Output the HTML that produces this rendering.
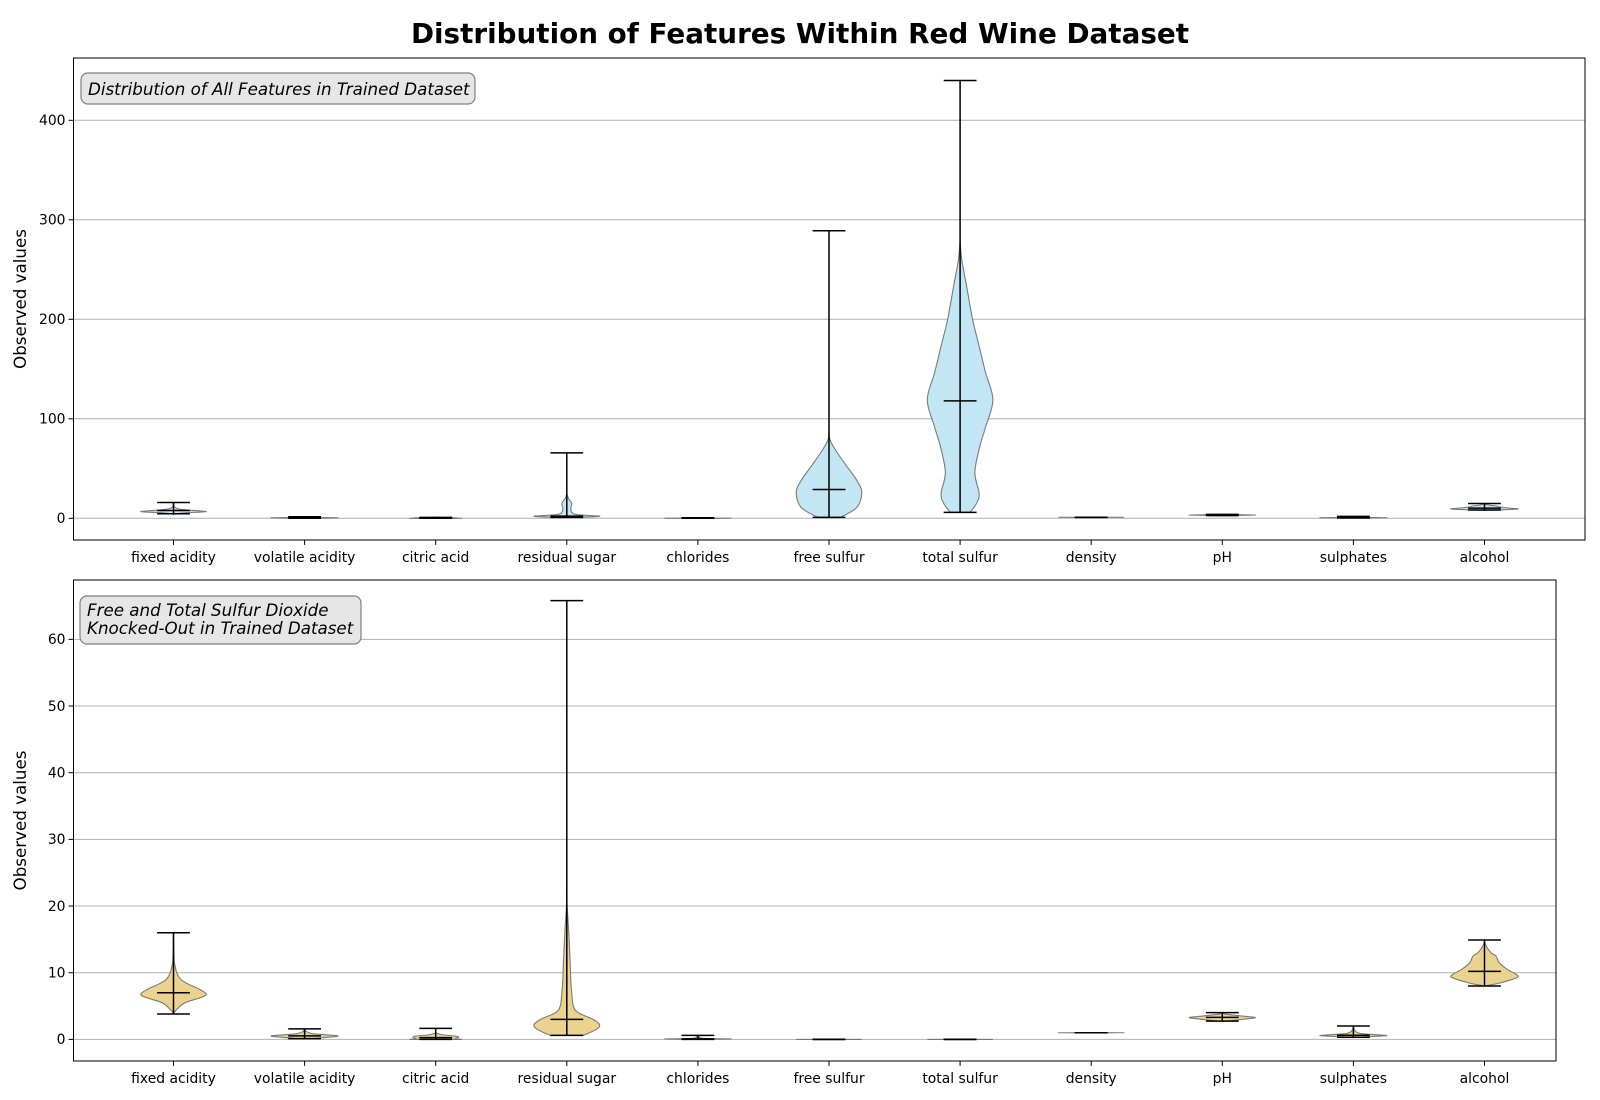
<!DOCTYPE html>
<html><head><meta charset="utf-8">
<style>
html,body{margin:0;padding:0;background:#fff;}
svg{display:block;font-family:"DejaVu Sans","Liberation Sans",sans-serif;}
</style></head>
<body>
<svg id="chart" width="1600" height="1100" viewBox="0 0 1600 1100" xmlns="http://www.w3.org/2000/svg">
<text x="800" y="43" text-anchor="middle" font-size="27.8" font-weight="bold">Distribution of Features Within Red Wine Dataset</text>
</svg>
<script>
const categories = ["fixed acidity","volatile acidity","citric acid","residual sugar","chlorides","free sulfur","total sulfur","density","pH","sulphates","alcohol"];
const topTicks = [0,100,200,300,400];
const bottomTicks = [0,10,20,30,40,50,60];

const topMins = [4.6,0.12,0,0.9,0.012,1,6,0.99,2.74,0.33,8.4];
const topMaxs = [15.9,1.58,1,65.8,0.61,289,440,1.004,4.01,2.0,14.9];
const topMedians = [7.9,0.52,0.26,2.2,0.079,29,118,0.997,3.31,0.62,10.2];

const bottomMins = [3.8,0.12,0,0.6,0.012,0,0,0.99,2.74,0.33,8.0];
const bottomMaxs = [16,1.58,1.66,65.8,0.61,0,0,1.004,4.01,2.0,14.9];
const bottomMedians = [7,0.52,0.26,3,0.079,0,0,0.997,3.31,0.62,10.2];

const profFixed = [[3.8,0],[4.5,0.1],[5.5,0.35],[6.3,0.85],[6.8,1],[7.5,0.8],[8.3,0.45],[9,0.22],[10,0.1],[11,0.05],[12,0.02],[16,0]];
const profVolatile = [[0.12,0.2],[0.4,0.9],[0.55,1],[0.7,0.6],[0.9,0.2],[1.2,0.05],[1.58,0]];
const profCitric = [[0,0.8],[0.1,0.6],[0.3,0.7],[0.5,0.6],[0.7,0.2],[1,0]];
const profSugarTop = [[0.9,0.3],[2,1],[3,0.6],[4,0.25],[6,0.15],[10,0.12],[15,0.15],[20,0.05],[25,0]];
const profSugarBottom = [[0.6,0.5],[1.5,0.9],[2.2,1],[3,0.8],[4,0.35],[5,0.2],[7,0.15],[9,0.12],[12,0.1],[16,0.06],[20,0.01],[22,0]];
const profChlorides = [[0.012,0.1],[0.07,1],[0.1,0.5],[0.2,0.1],[0.61,0]];
const profFree = [[1,0.35],[11,0.85],[26,1],[38,0.85],[52,0.55],[66,0.25],[79,0.03],[92,0]];
const profTotal = [[6,0.3],[15,0.5],[25,0.58],[46,0.45],[72,0.6],[92,0.78],[119,1],[146,0.78],[173,0.58],[200,0.38],[233,0.2],[260,0.05],[280,0]];
const profZero = [[0,1],[0,1]];
const profDensity = [[0.99,0.1],[0.997,1],[1.004,0.1]];
const profPH = [[2.74,0.1],[3.1,0.8],[3.3,1],[3.5,0.6],[3.8,0.1],[4.01,0]];
const profSulph = [[0.33,0.1],[0.55,1],[0.7,0.7],[0.9,0.2],[1.3,0.05],[2.0,0]];
const profAlcohol = [[8,0],[8.5,0.5],[9.3,1],[9.8,0.95],[10.5,0.7],[11.5,0.45],[12.5,0.35],[13,0.2],[14,0.05],[14.9,0]];

const topProfiles = [profFixed,profVolatile,profCitric,profSugarTop,profChlorides,profFree,profTotal,profDensity,profPH,profSulph,profAlcohol];
const bottomProfiles = [profFixed,profVolatile,profCitric,profSugarBottom,profChlorides,profZero,profZero,profDensity,profPH,profSulph,profAlcohol];

const NS = "http://www.w3.org/2000/svg";
const svg = document.getElementById("chart");
function mk(tag, attrs, parent){
  const e = document.createElementNS(NS, tag);
  for (const k in attrs) e.setAttribute(k, attrs[k]);
  (parent||svg).appendChild(e);
  return e;
}
function smooth(pts){
  // Catmull-Rom to cubic bezier
  let d = "";
  for (let i = 0; i < pts.length - 1; i++){
    const p0 = pts[Math.max(0,i-1)], p1 = pts[i], p2 = pts[i+1], p3 = pts[Math.min(pts.length-1,i+2)];
    const c1x = p1[0] + (p2[0]-p0[0])/6, c1y = p1[1] + (p2[1]-p0[1])/6;
    const c2x = p2[0] - (p3[0]-p1[0])/6, c2y = p2[1] - (p3[1]-p1[1])/6;
    d += " C" + c1x.toFixed(2)+","+c1y.toFixed(2)+" "+c2x.toFixed(2)+","+c2y.toFixed(2)+" "+p2[0].toFixed(2)+","+p2[1].toFixed(2);
  }
  return d;
}

function drawPanel(cfg){
  const g = mk("g", {});
  
  
  const L = cfg.left, R = cfg.right, T = cfg.top, B = cfg.bottom;
  const yScale = v => B - (v - cfg.ymin) / (cfg.ymax - cfg.ymin) * (B - T);
  const xScale = i => 173.5 + i * 131.1;
  const halfMax = 32.8, capHalf = 16.4;
  cfg.ticks.forEach(t => {
    const y = yScale(t);
    const gl = mk("line", {x1:L, x2:R, y1:y, y2:y, stroke:"#b0b0b0", "stroke-width":1}, g);
    
    
    mk("line", {x1:L-4.9, x2:L, y1:y, y2:y, stroke:"#000", "stroke-width":1}, g);
    const tl = mk("text", {x:L-8, y:y+4.8, "text-anchor":"end", "font-size":13.9}, g);
    
    
    tl.textContent = t;
  });
  categories.forEach((c, i) => {
    const cx = xScale(i);
    const prof = cfg.profiles[i];
    const right = prof.map(p => [cx + p[1]*halfMax, yScale(p[0])]);
    const left = prof.map(p => [cx - p[1]*halfMax, yScale(p[0])]).reverse();
    const d = "M" + right[0][0].toFixed(2) + "," + right[0][1].toFixed(2) + smooth(right) +
      " L" + left[0][0].toFixed(2) + "," + left[0][1].toFixed(2) + smooth(left) + " Z";
    const body = mk("path", {d: d, fill: cfg.fill, stroke: "#6e6e6e", "stroke-width": 1.1, "stroke-opacity":0.9}, g);
    
    
    const yMin = yScale(cfg.mins[i]), yMax = yScale(cfg.maxs[i]), yMed = yScale(cfg.medians[i]);
    const stem = mk("line", {x1:cx, x2:cx, y1:yMin, y2:yMax, stroke:"#000", "stroke-width":1.5}, g);
    
    
    [yMin, yMax].forEach(y => {
      const cap = mk("line", {x1:cx-capHalf, x2:cx+capHalf, y1:y, y2:y, stroke:"#000", "stroke-width":1.5}, g);
      
      
    });
    const med = mk("line", {x1:cx-capHalf, x2:cx+capHalf, y1:yMed, y2:yMed, stroke:"#000", "stroke-width":1.5}, g);
    
    
    mk("line", {x1:cx, x2:cx, y1:B, y2:B+4.9, stroke:"#000", "stroke-width":1}, g);
    const xl = mk("text", {x:cx, y:B+22, "text-anchor":"middle", "font-size":13.9}, g);
    
    
    xl.textContent = c;
  });
  const frame = mk("rect", {x:L, y:T, width:R-L, height:B-T, fill:"none", stroke:"#000", "stroke-width":1}, g);
  
  
  const yl = mk("text", {x:0, y:0, "text-anchor":"middle", "font-size":16.7, transform:"translate(26," + ((T+B)/2) + ") rotate(-90)"}, g);
  
  
  yl.textContent = "Observed values";
  const box = mk("rect", {x:cfg.box[0], y:cfg.box[1], width:cfg.box[2], height:cfg.box[3], rx:7, fill:"#e6e6e6", stroke:"#808080", "stroke-width":1.2}, g);
  
  
  cfg.lines.forEach((ln, k) => {
    const t = mk("text", {x:cfg.box[0]+7, y:cfg.lineY[k], "font-size":16.7, "font-style":"italic"}, g);
    
    
    t.textContent = ln;
  });
}

drawPanel({name:"top-panel", left:73.5, right:1585, top:58, bottom:540, ymin:-21.8, ymax:462.6,
  ticks: topTicks, profiles: topProfiles, mins: topMins, maxs: topMaxs, medians: topMedians,
  fill:"#c3e6f5", box:[81,73,394,31], lines:["Distribution of All Features in Trained Dataset"], lineY:[95]});
drawPanel({name:"bottom-panel", left:73.5, right:1556, top:580, bottom:1061, ymin:-3.24, ymax:68.9,
  ticks: bottomTicks, profiles: bottomProfiles, mins: bottomMins, maxs: bottomMaxs, medians: bottomMedians,
  fill:"#ecd28f", box:[80,596,281,48], lines:["Free and Total Sulfur Dioxide","Knocked-Out in Trained Dataset"], lineY:[616,634]});
</script>
</body></html>
